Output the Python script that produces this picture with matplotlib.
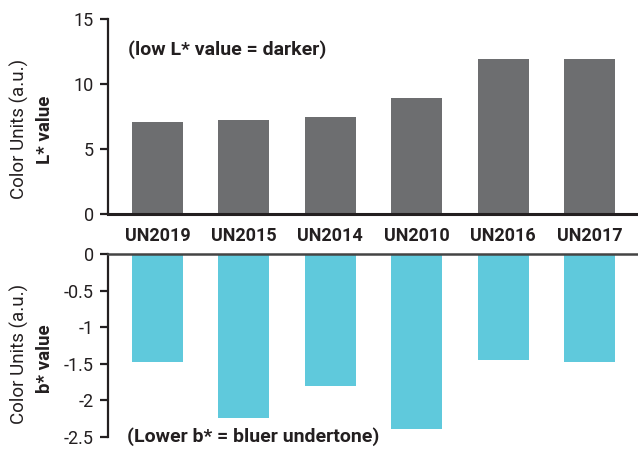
import matplotlib
matplotlib.use("Agg")
import matplotlib.pyplot as plt

plt.rcParams['font.family'] = ['Roboto', 'DejaVu Sans']
plt.rcParams['axes.unicode_minus'] = False

samples = ["UN2019", "UN2015", "UN2014", "UN2010", "UN2016", "UN2017"]
l_values = [7.05, 7.2, 7.45, 8.9, 11.9, 11.9]
b_values = [-1.48, -2.25, -1.8, -2.39, -1.45, -1.48]
l_ticks = [0, 5, 10, 15]
b_ticks = [0, -0.5, -1, -1.5, -2, -2.5]
b_tick_labels = ["0", "-0.5", "-1", "-1.5", "-2", "-2.5"]

gray = "#6d6e70"
cyan = "#5fc9dc"
dark = "#231f20"

fig = plt.figure(figsize=(6.38, 4.49), dpi=100)
ax1 = fig.add_axes([0.1693, 0.524, 0.8307, 0.4337])
ax2 = fig.add_axes([0.1693, 0.0275, 0.8307, 0.4061])

x = list(range(len(samples)))
ax1.bar(x, l_values, width=0.59, color=gray)
ax2.bar(x, b_values, width=0.59, color=cyan)

for ax in (ax1, ax2):
    ax.set_xlim(-0.573, 5.56)
    ax.spines['right'].set_visible(False)
    ax.spines['left'].set_linewidth(1.6)
    ax.spines['left'].set_color(dark)
    ax.tick_params(axis='y', length=6, width=1.6, color=dark, labelsize=13, pad=4, labelcolor=dark)

ax1.set_ylim(0, 15)
ax1.set_yticks(l_ticks)
ax1.set_xticks([])
ax1.spines['top'].set_visible(False)
ax1.spines['bottom'].set_linewidth(2.2)
ax1.spines['bottom'].set_color(dark)

ax2.set_ylim(-2.5, 0)
ax2.set_yticks(b_ticks)
ax2.set_yticklabels(b_tick_labels)
ax2.spines['bottom'].set_visible(False)
ax2.spines['top'].set_linewidth(1.8)
ax2.spines['top'].set_color("#444444")
ax2.xaxis.tick_top()
ax2.set_xticks(x)
ax2.set_xticklabels(samples, fontweight='bold')
ax2.tick_params(axis='x', length=0, pad=7, labelsize=13, labelcolor=dark)

fig.text(0.031, 0.713, "Color Units (a.u.)", rotation=90, ha='center', va='center', fontsize=13.5, color=dark)
fig.text(0.071, 0.71, "L* value", rotation=90, ha='center', va='center', fontsize=13.5, fontweight='bold', color=dark)
fig.text(0.031, 0.212, "Color Units (a.u.)", rotation=90, ha='center', va='center', fontsize=13.5, color=dark)
fig.text(0.071, 0.201, "b* value", rotation=90, ha='center', va='center', fontsize=13.5, fontweight='bold', color=dark)

fig.text(128 / 638, 1 - 50 / 449, "(low L* value = darker)", ha='left', va='center', fontsize=14, fontweight='bold', color=dark)
fig.text(127 / 638, 1 - 437 / 449, "(Lower b* = bluer undertone)", ha='left', va='center', fontsize=14, fontweight='bold', color=dark)

fig.savefig("out.png", dpi=100)
